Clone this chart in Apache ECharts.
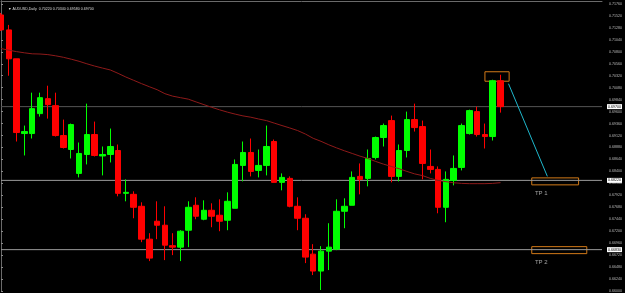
<!DOCTYPE html>
<html>
<head>
<meta charset="utf-8">
<script src="https://cdn.jsdelivr.net/npm/echarts@6/dist/echarts.min.js"></script>
<style>
  html, body { margin: 0; padding: 0; background: #000; }
  #chart { width: 625px; height: 293px; }
</style>
</head>
<body>
<div id="chart"></div>
<script>
// daily bars, oldest first
const open  = [0.7154,0.7124,0.7066,0.6916,0.6916,0.6956,0.6986,0.6972,0.6912,0.6884,
               0.6836,0.6874,0.6914,0.6871,0.6874,0.6882,0.6796,0.6794,0.6770,0.6704,
               0.6740,0.6732,0.6691,0.6688,0.6722,0.6772,0.6744,0.6762,0.6752,0.6742,
               0.6766,0.6852,0.6878,0.6842,0.6852,0.6900,0.6818,0.6826,0.6770,0.6746,
               0.6674,0.6640,0.6680,0.6684,0.6760,0.6772,0.6830,0.6826,0.6868,0.6908,
               0.6942,0.6830,0.6882,0.6944,0.6930,0.6850,0.6844,0.6768,0.6822,0.6848,
               0.6916,0.6960,0.6914,0.6910,0.7022]
const close = [0.7124,0.7066,0.6918,0.6920,0.6966,0.6988,0.6974,0.6912,0.6888,0.6934,
               0.6876,0.6914,0.6872,0.6874,0.6890,0.6796,0.6798,0.6768,0.6704,0.6666,
               0.6732,0.6692,0.6688,0.6720,0.6768,0.6750,0.6762,0.6750,0.6740,0.6780,
               0.6854,0.6878,0.6840,0.6852,0.6890,0.6818,0.6828,0.6770,0.6746,0.6668,
               0.6640,0.6680,0.6688,0.6760,0.6770,0.6828,0.6824,0.6866,0.6908,0.6932,
               0.6830,0.6882,0.6944,0.6928,0.6856,0.6844,0.6768,0.6824,0.6846,0.6932,
               0.6962,0.6914,0.6910,0.7022,0.6970]
const low   = [0.7122,0.7032,0.6900,0.6872,0.6906,0.6950,0.6946,0.6910,0.6886,0.6866,
               0.6828,0.6854,0.6870,0.6832,0.6858,0.6790,0.6780,0.6746,0.6698,0.6660,
               0.6704,0.6662,0.6672,0.6660,0.6688,0.6744,0.6742,0.6728,0.6720,0.6722,
               0.6766,0.6820,0.6830,0.6828,0.6832,0.6818,0.6802,0.6768,0.6722,0.6656,
               0.6632,0.6602,0.6642,0.6682,0.6726,0.6772,0.6794,0.6810,0.6864,0.6890,
               0.6818,0.6820,0.6868,0.6920,0.6824,0.6836,0.6756,0.6738,0.6812,0.6842,
               0.6914,0.6910,0.6886,0.6902,0.6958]
const high  = [0.7158,0.7134,0.7066,0.6932,0.6998,0.6998,0.7012,0.6998,0.6944,0.6936,
               0.6898,0.6976,0.6940,0.6890,0.6926,0.6894,0.6824,0.6800,0.6778,0.6716,
               0.6780,0.6770,0.6716,0.6722,0.6780,0.6788,0.6782,0.6776,0.6784,0.6798,
               0.6864,0.6900,0.6906,0.6884,0.6932,0.6904,0.6836,0.6830,0.6788,0.6754,
               0.6694,0.6690,0.6736,0.6784,0.6786,0.6840,0.6856,0.6884,0.6910,0.6936,
               0.6952,0.6894,0.6960,0.6976,0.6942,0.6884,0.6850,0.6840,0.6872,0.6936,
               0.6964,0.6970,0.6936,0.7024,0.7034]
// moving average
const ma    = [0.70866,0.70832,0.70804,0.7078,0.7076,0.70756,0.70744,0.7072,0.7069,0.70652,
               0.7061,0.7056,0.70514,0.70474,0.70436,0.70368,0.70294,0.70228,0.70162,0.701,
               0.7004,0.6996,0.6991,0.6988,0.6985,0.69794,0.6974,0.69686,0.69636,0.6959,
               0.6955,0.69514,0.69488,0.69452,0.6942,0.6937,0.6932,0.69272,0.6922,0.6915,
               0.69064,0.69004,0.68934,0.68872,0.68814,0.6876,0.68706,0.6866,0.686,0.68546,
               0.685,0.68454,0.684,0.6835,0.68316,0.6826,0.6822,0.68194,0.68172,0.6816,
               0.68154,0.68154,0.68154,0.6816,0.68174]
const slots = 78  // bars plus empty space on the right

// horizontal levels: bid, TP 1, TP 2
const levels = [0.6970, 0.6822, 0.6683]
const levelColors = ['#555555', '#9a9a9a', '#9a9a9a']

// drawn objects, x in bar index units
const boxes = [
    [[62, 0.7040], [65.1, 0.7021]],
    [[68, 0.6827], [74, 0.6813]],
    [[68, 0.6689], [75.05, 0.6675]],
]
const arrow = [[65.02, 0.7016], [70.0, 0.6830]]
const tpLabels = [
    { name: 'TP 1', value: [68.4, 0.6796] },
    { name: 'TP 2', value: [68.4, 0.6657] },
]

const title = '▼ AUDUSD,Daily  0.70220 0.70340 0.69580 0.69700'

let days = []
for (let i = 0; i < slots; i++) days.push(String(i + 1))
let candles = open.map((o, i) => [o, close[i], low[i], high[i]])

let levelSeries = levels.map((v, i) => ({
    name: 'level' + i,
    type: 'line',
    xAxisIndex: 1,
    data: [[0, v], [slots - 1, v]],
    symbol: 'none',
    silent: true,
    lineStyle: { color: levelColors[i], width: 1 },
    endLabel: {
        show: true,
        distance: 5,
        formatter: p => p.value[1].toFixed(5),
        color: '#000',
        backgroundColor: '#ffffff',
        padding: [1, 1, 0, 1],
        fontSize: 3.6,
        fontFamily: 'Liberation Sans',
    },
    z: 1,
}))

let myChart = echarts.init(document.getElementById('chart'))

myChart.setOption({
    backgroundColor: '#000',
    animation: false,
    title: {
        text: title,
        left: 3,
        top: 2,
        textStyle: { color: '#dddddd', fontSize: 3.6, fontWeight: 'normal', fontFamily: 'Liberation Sans' },
    },
    grid: { left: 1, right: 22, top: 1, height: 291 },
    xAxis: [
        {
            type: 'category',
            data: days,
            position: 'top',
            boundaryGap: false,
            axisLine: { show: true, lineStyle: { color: '#6a6a6a', width: 1 } },
            axisTick: { show: false },
            axisLabel: { show: false },
            splitLine: { show: false },
        },
        {
            type: 'value',
            min: 0,
            max: slots - 1,
            show: false,
        },
    ],
    yAxis: [
        {
            type: 'value',
            position: 'right',
            min: 0.6600,
            max: 0.7182,
            interval: 0.0024,
            axisLine: { show: true, lineStyle: { color: '#8a8a8a' } },
            axisTick: { show: true, length: 2, lineStyle: { color: '#8a8a8a' } },
            splitLine: { show: false },
            axisLabel: {
                color: '#bbbbbb',
                fontSize: 3.6,
                margin: 7,
                fontFamily: 'Liberation Sans',
                showMaxLabel: false,
                formatter: v => v.toFixed(5),
            },
        },
        {
            type: 'value',
            position: 'left',
            min: 0.6600,
            max: 0.7182,
            axisLine: { show: true, lineStyle: { color: '#6a6a6a' } },
            axisTick: { show: false },
            axisLabel: { show: false },
            splitLine: { show: false },
        },
    ],
    series: [
        ...levelSeries,
        {
            name: 'AUDUSD',
            type: 'candlestick',
            data: candles,
            barWidth: 6,
            itemStyle: {
                color: '#00ff00',
                color0: '#ff0000',
                borderColor: '#00ff00',
                borderColor0: '#ff0000',
                borderWidth: 1,
            },
            z: 2,
        },
        {
            name: 'MA',
            type: 'line',
            data: ma,
            symbol: 'none',
            lineStyle: { color: '#8e1a1a', width: 1 },
            z: 3,
        },
        {
            name: 'arrow',
            type: 'line',
            xAxisIndex: 1,
            data: arrow,
            symbol: 'none',
            lineStyle: { color: '#1fb8cc', width: 1 },
            markArea: {
                silent: true,
                itemStyle: { color: 'rgba(0,0,0,0)', borderColor: '#d27a18', borderWidth: 1 },
                data: boxes.map(b => [{ coord: b[0] }, { coord: b[1] }]),
            },
        },
        {
            name: 'tp',
            type: 'scatter',
            xAxisIndex: 1,
            data: tpLabels,
            symbolSize: 0,
            label: {
                show: true,
                position: 'right',
                distance: 0,
                formatter: p => p.name,
                color: '#c8c8c8',
                fontSize: 6,
                fontFamily: 'Liberation Sans',
            },
        },
    ],
})
</script>
</body>
</html>
